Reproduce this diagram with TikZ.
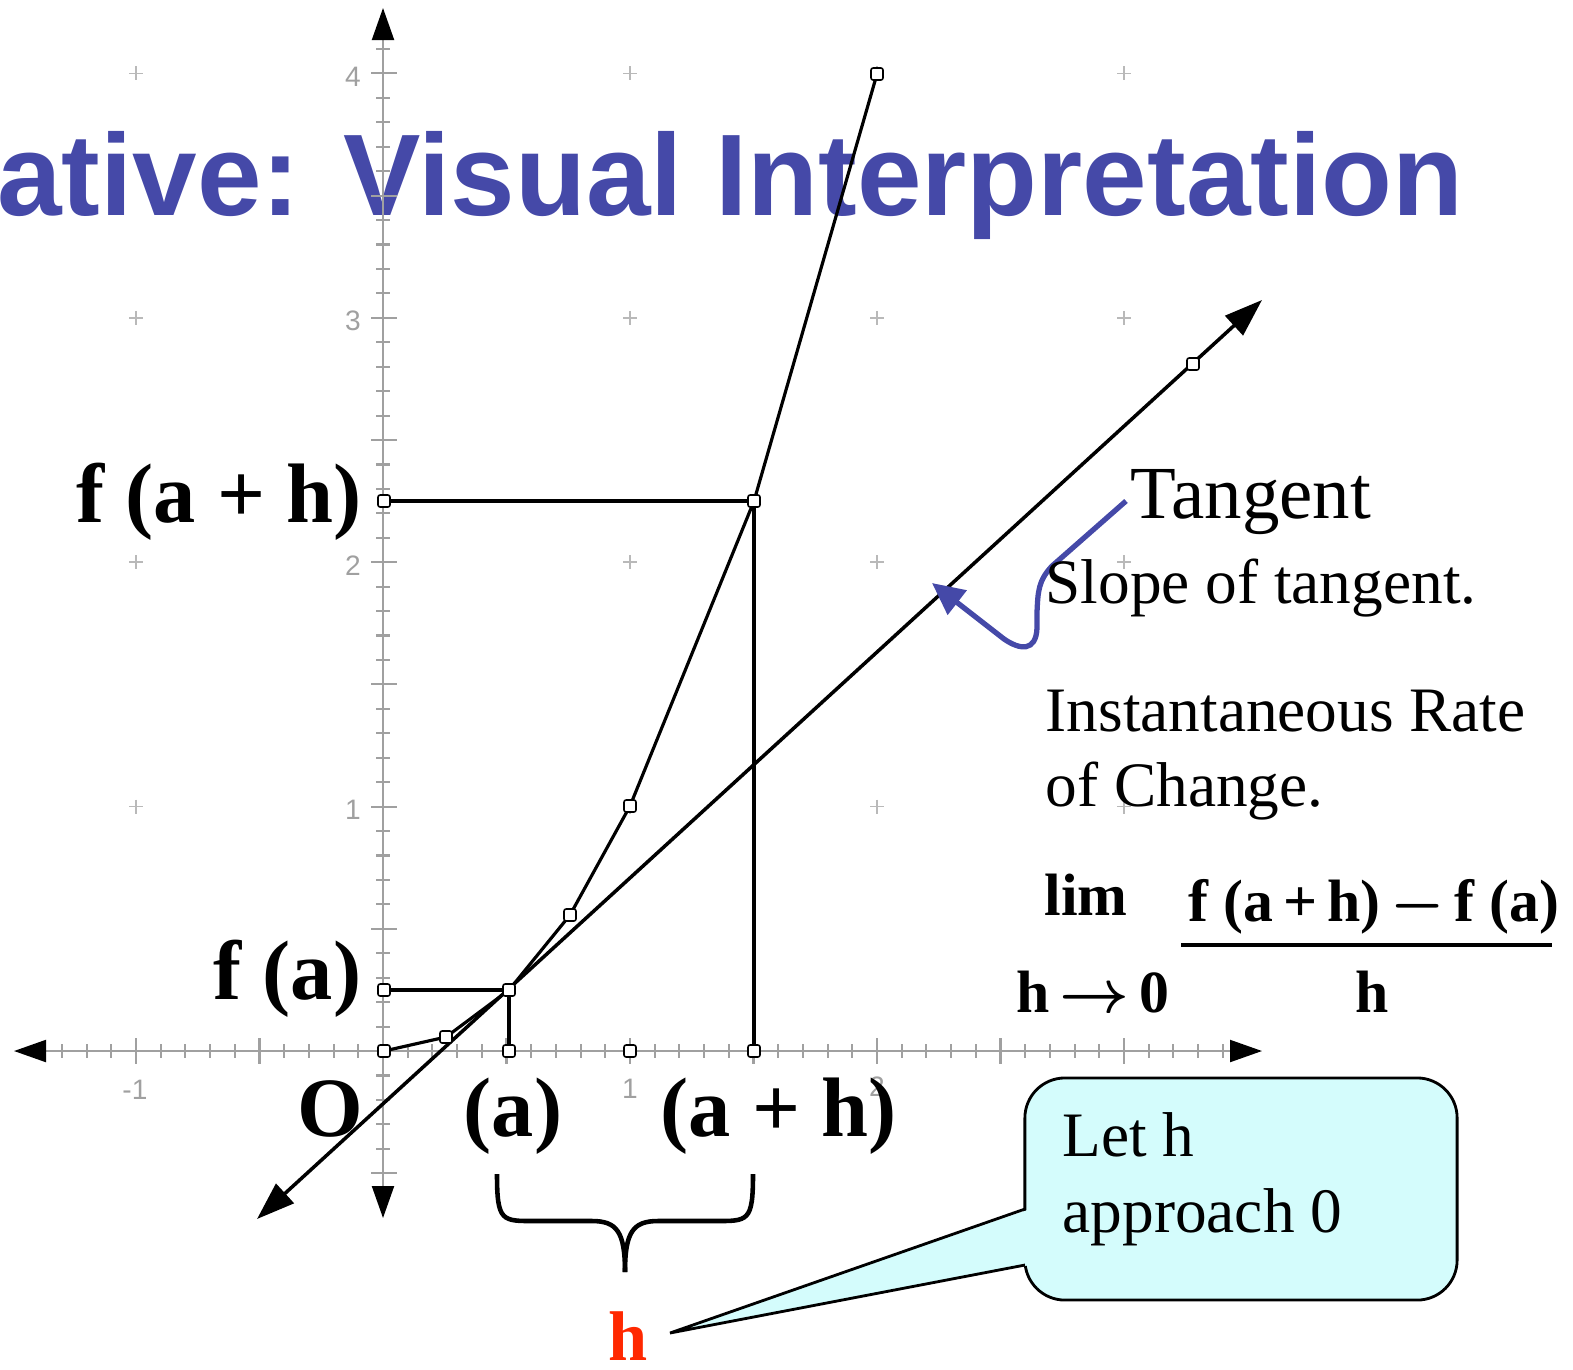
\documentclass[tikz,border=0pt]{standalone}
\usepackage{fontspec}
\setmainfont{Liberation Serif}
\newfontfamily\titlefont{Liberation Sans}
\usepackage{xcolor}
\usetikzlibrary{arrows.meta}
\definecolor{titleblue}{RGB}{69,73,168}
\definecolor{axisgray}{RGB}{160,160,160}
\definecolor{gridgray}{RGB}{185,185,185}
\definecolor{calloutcyan}{RGB}{212,252,252}
\definecolor{hred}{RGB}{255,40,0}

\begin{document}
\begin{tikzpicture}[x=0.01cm, y=-0.01cm,
    axistip/.tip={Triangle[color=black, length=0.32cm, width=0.22cm]},
    tangtip/.tip={Triangle[length=0.38cm, width=0.26cm]},
    bluetip/.tip={Triangle[length=0.32cm, width=0.3cm]},
    axisline/.style={draw=axisgray, line width=0.6pt},
    gridcross/.style={draw=gridgray, line width=0.5pt},
    axislabel/.style={text=axisgray, font=\titlefont\fontsize{8}{9}\selectfont, inner sep=0pt},
    graphline/.style={draw=black, line width=0.9pt},
    ptmark/.style={draw=black, fill=white, line width=0.45pt, minimum size=0.12cm, inner sep=0pt, rounded corners=0.6pt},
    boldlabel/.style={font=\fontsize{24}{28}\selectfont\bfseries, inner sep=0pt},
    plainlabel/.style={font=\fontsize{18}{21}\selectfont, inner sep=0pt},
    formula/.style={font=\fontsize{17}{20}\selectfont\bfseries, inner sep=0pt}
]
    \useasboundingbox (0,0) rectangle (1573,1369);
    % Title
    \node[anchor=base east, inner sep=0pt, text=titleblue, font=\titlefont\bfseries\fontsize{33}{38}\selectfont] (title) at (1464,215) {ative: Visual Interpretation};
    % Grid crosses
    \foreach \gx in {-1,1,2,3}
      \foreach \gy in {1,2,3,4}
        \draw[gridcross] ({383+247*\gx},{1051-244.4*\gy}) +(-7,0) -- +(7,0) +(0,-7) -- +(0,7);
    % Axes
    \coordinate (xleft) at (14,1051);
    \coordinate (xright) at (1262,1051);
    \coordinate (ytop) at (383,8);
    \coordinate (ybottom) at (383,1218);
    \draw[axisline, axistip-axistip] (xleft) -- (xright);
    \draw[axisline, axistip-axistip] (ybottom) -- (ytop);
    \foreach \i in {-13,...,34}
      \draw[axisline] ({383+24.7*\i},1044) -- ++(0,14);
    \foreach \i in {-10,-5,5,10,...,30}
      \draw[axisline] ({383+24.7*\i},1038) -- ++(0,26);
    \foreach \j in {-5,...,41}
      \draw[axisline] (376,{1051-24.44*\j}) -- ++(14,0);
    \foreach \j in {-5,5,10,...,40}
      \draw[axisline] (371,{1051-24.44*\j}) -- ++(26,0);
    \foreach \v in {1,...,4}
      \node[axislabel] (ylab\v) at (353,{1054-244.4*\v}) {\v};
    \node[axislabel] (xlabneg) at (135,1090) {-1};
    \node[axislabel] (xlabone) at (630,1089) {1};
    \node[axislabel] (xlabtwo) at (877,1087) {2};
    % Points of the curve
    \coordinate (c0) at (384,1051);
    \coordinate (c1) at (446,1037);
    \coordinate (c2) at (509,990);
    \coordinate (c3) at (570,915);
    \coordinate (c4) at (630,806);
    \coordinate (c5) at (754,501);
    \coordinate (c6) at (877,74);
    \coordinate (fa) at (384,990);
    \coordinate (fah) at (384,501);
    \coordinate (xa) at (509,1051);
    \coordinate (xone) at (630,1051);
    \coordinate (xah) at (754,1051);
    \coordinate (tmark) at (1193,364);
    \coordinate (tlow) at (257,1219);
    \coordinate (thigh) at (1262,300);
    % Curve, guides and tangent
    \draw[graphline] (c0) -- (c1) -- (c2) -- (c3) -- (c4) -- (c5) -- (c6);
    \draw[graphline] (fa) -- (c2) -- (xa);
    \draw[graphline] (fah) -- (c5) -- (xah);
    \draw[graphline, line width=1pt, tangtip-tangtip] (tlow) -- (thigh);
    \foreach \p in {c0,c1,c2,c3,c4,c5,c6,fa,fah,xa,xone,xah,tmark}
      \node[ptmark] (m\p) at (\p) {};
    % Labels on the axes
    \node[boldlabel, anchor=base east] (fahlabel) at (362,522) {f (a + h)};
    \node[boldlabel, anchor=base east] (falabel) at (362,999) {f (a)};
    \node[boldlabel, anchor=base east] (olabel) at (364,1136) {O};
    \node[boldlabel, anchor=base west] (alabel) at (463,1136) {(a)};
    \node[boldlabel, anchor=base west] (ahlabel) at (660,1136) {(a + h)};
    % Text on the right
    \node[font=\fontsize{21.3}{25}\selectfont, inner sep=0pt, anchor=base west] (tangent) at (1130,518) {Tangent};
    \coordinate (bluestart) at (1126,501);
    \coordinate (bluetip) at (932,583);
    \draw[draw=titleblue, line width=1.5pt, -bluetip] (bluestart) -- (1052,566) .. controls (1038,581) and (1038,592) .. (1037,612) -- (1037,628) .. controls (1036,652) and (1020,650) .. (1004,639) -- (bluetip);
    \node[plainlabel, anchor=base west] (slope) at (1045,603) {Slope of tangent.};
    \node[plainlabel, anchor=base west] (rateone) at (1045,731) {Instantaneous Rate};
    \node[plainlabel, anchor=base west] (ratetwo) at (1045,806) {of Change.};
    % Limit
    \node[formula, anchor=base west] (lim) at (1044,915) {lim};
    \node[formula, anchor=base west] (htozero) at (1016,1012) {h\,{\boldmath$\rightarrow$}\,0};
    \node[formula, anchor=base west] (numer) at (1188,921) {f~(a\,+\,h)\,{\boldmath$-$}\,f~(a)};
    \coordinate (barleft) at (1181,945);
    \coordinate (barright) at (1552,945);
    \draw[line width=0.9pt] (barleft) -- (barright);
    \node[formula, anchor=base west] (denom) at (1355,1012) {h};
    % Brace
    \coordinate (braceleft) at (497,1174);
    \coordinate (braceright) at (753,1174);
    \coordinate (bracetip) at (625,1272);
    \draw[line width=1.3pt] (braceleft) .. controls (497,1222) and (502,1221) .. (535,1221) -- (592,1221) .. controls (617,1221) and (625,1232) .. (bracetip);
    \draw[line width=1.3pt] (braceright) .. controls (753,1222) and (748,1221) .. (715,1221) -- (658,1221) .. controls (633,1221) and (625,1232) .. (bracetip);
    \node[font=\fontsize{20}{24}\selectfont\bfseries, text=hred, inner sep=0pt, anchor=base west] (hlabel) at (608,1360) {h};
    % Callout
    \node[draw=black, fill=calloutcyan, line width=0.8pt, rounded corners=0.4cm, minimum width=4.32cm, minimum height=2.22cm, inner sep=0pt] (callout) at (1241,1189) {};
    \coordinate (tailtop) at (1025,1209);
    \coordinate (tailbot) at (1025,1265);
    \coordinate (tailtip) at (670,1333);
    \fill[calloutcyan] ([xshift=1.5pt]tailtop) -- (tailtip) -- ([xshift=1.5pt]tailbot) -- cycle;
    \draw[line width=0.8pt] (tailtop) -- (tailtip) -- (tailbot);
    \node[plainlabel, anchor=base west] (letline) at (1062,1156) {Let h};
    \node[plainlabel, anchor=base west] (approachline) at (1062,1232) {approach 0};
\end{tikzpicture}
\end{document}
